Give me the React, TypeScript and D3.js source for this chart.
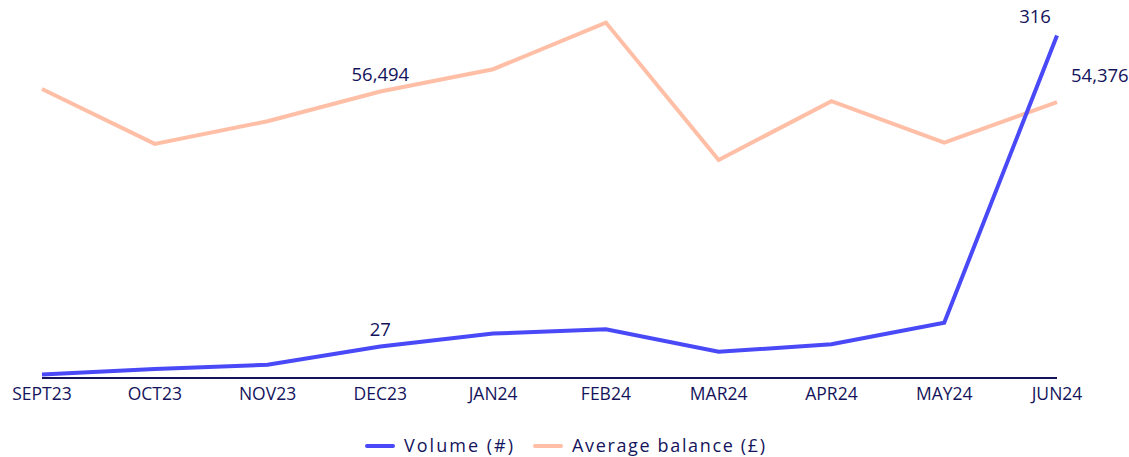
import * as d3 from "d3";
import React from "react";

// months along the x axis
const months = ["SEPT23", "OCT23", "NOV23", "DEC23", "JAN24", "FEB24", "MAR24", "APR24", "MAY24", "JUN24"];
// volume (#)
const volume = [1, 6, 10, 27, 39, 43, 22, 29, 49, 316];
// average balance (£)
const balance = [57010, 46070, 50590, 56494, 60930, 70210, 42880, 54570, 46330, 54376];
const seriesNames = ["Volume (#)", "Average balance (£)"];

const W = 1129,
  H = 457;
const navy = "#14145c";
const blue = "#4949f7";
const peach = "#ffbfa6";
const font = "'Open Sans', sans-serif";

export default function App() {
  const x = d3.scalePoint<string>().domain(months).range([42, 1057]);
  const yVol = d3.scaleLinear().domain([0, 349]).range([375.5, 0]);
  const yBal = d3.scaleLinear().domain([0, 74700]).range([375.5, 0]);

  const volLine = d3
    .line<number>()
    .x((d, i) => x(months[i])!)
    .y((d) => yVol(d));
  const balLine = d3
    .line<number>()
    .x((d, i) => x(months[i])!)
    .y((d) => yBal(d));

  const fmt = d3.format(",");
  const last = months.length - 1;

  return (
    <div style={{ position: "absolute", left: 0, top: 0 }}>
      <svg width={W} height={H} style={{ display: "block", fontFamily: font }}>
        <path d={balLine(balance)!} fill="none" stroke={peach} strokeWidth={4} />
        <path d={volLine(volume)!} fill="none" stroke={blue} strokeWidth={4} />

        {/* x axis */}
        <line x1={x(months[0])} x2={x(months[last])} y1={378} y2={378} stroke={navy} strokeWidth={2} />
        {months.map((m) => (
          <text key={m} x={x(m)} y={400} textAnchor="middle" fontSize={17.5} fill={navy}>
            {m}
          </text>
        ))}

        {/* value labels */}
        <text x={x(months[3])} y={yBal(balance[3]) - 11} textAnchor="middle" fontSize={18.5} fill={navy}>
          {fmt(balance[3])}
        </text>
        <text x={x(months[3])} y={yVol(volume[3]) - 10} textAnchor="middle" fontSize={18.5} fill={navy}>
          {fmt(volume[3])}
        </text>
        <text x={x(months[last])! - 22} y={yVol(volume[last]) - 13} textAnchor="middle" fontSize={18.5} fill={navy}>
          {fmt(volume[last])}
        </text>
        <text x={x(months[last])! + 14} y={yBal(balance[last]) - 20} fontSize={18.5} fill={navy}>
          {fmt(balance[last])}
        </text>

        {/* legend */}
        <line x1={367} x2={393} y1={446} y2={446} stroke={blue} strokeWidth={4} strokeLinecap="round" />
        <text x={404} y={452} fontSize={18} fill={navy} textLength={109} lengthAdjust="spacing">
          {seriesNames[0]}
        </text>
        <line x1={535} x2={561} y1={446} y2={446} stroke={peach} strokeWidth={4} strokeLinecap="round" />
        <text x={572} y={452} fontSize={18} fill={navy} textLength={193} lengthAdjust="spacing">
          {seriesNames[1]}
        </text>
      </svg>
    </div>
  );
}
